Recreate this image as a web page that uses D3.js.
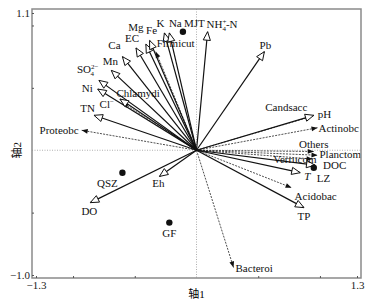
<!DOCTYPE html>
<html>
<head>
<meta charset="utf-8">
<script src="https://cdn.jsdelivr.net/npm/d3@7"></script>
<style>
    body { margin: 0; background: #fff; }
</style>
</head>
<body>
<svg id="chart" width="378" height="304"></svg>
<script>
// environment factors (solid arrows, open heads)
const envNames = ["NH4+-N", "Pb", "pH", "DOC", "T", "TP", "Eh", "DO", "TN", "Cl-", "Ni", "SO42-", "Mn", "Ca", "EC", "Mg", "Fe", "K", "Na"]
const envX = [0.09, 0.55, 0.95, 0.96, 0.84, 0.87, -0.30, -0.86, -0.83, -0.62, -0.80, -0.79, -0.69, -0.60, -0.49, -0.41, -0.38, -0.26, -0.22]
const envY = [0.95, 0.79, 0.28, -0.12, -0.18, -0.46, -0.21, -0.42, 0.28, 0.41, 0.49, 0.56, 0.64, 0.75, 0.82, 0.85, 0.88, 0.94, 0.94]

// phyla (dashed arrows, filled heads)
const taxaNames = ["Proteobc", "Chlamydi", "Firmicut", "Candsacc", "Actinobc", "Others", "Planctom", "Verrucom", "Acidobac", "Bacteroi"]
const taxaX = [-0.93, -0.60, -0.33, 0.93, 0.98, 0.95, 0.98, 0.94, 0.77, 0.30]
const taxaY = [0.16, 0.38, 0.79, 0.27, 0.18, -0.01, -0.04, -0.07, -0.30, -0.94]

// sampling sites
const siteNames = ["MJT", "LZ", "QSZ", "GF"]
const siteX = [-0.11, 0.95, -0.60, -0.22]
const siteY = [0.95, -0.14, -0.18, -0.58]

const xTicks = [-1.3, -1.0, -0.5, 0.5, 1.0, 1.3]
const yTicks = [-1.0, -0.5, 0.5, 1.0, 1.1]
const xLabelled = [-1.3, 1.3]
const yLabelled = [-1.0, 1.1]

// label placement relative to arrow tip: [dx, dy, anchor]
const labelPos = {
    "NH4+-N": [-1, -4, "start"], "Pb": [1, -3, "middle"], "pH": [4, 3, "start"],
    "DOC": [8, 4, "start"], "T": [4, 7, "start"], "TP": [0, 12, "middle"],
    "Eh": [-1, 11, "middle"], "DO": [-1, 12, "middle"], "TN": [1, -3, "end"],
    "Cl-": [-6, 9, "end"], "Ni": [-5, 3, "end"], "SO42-": [-22, -7, "start"],
    "Mn": [-1, -5, "middle"], "Ca": [-8, -8, "middle"], "EC": [-4, -6, "middle"],
    "Mg": [-10, -13, "middle"], "Fe": [2, -6, "middle"], "K": [-4, -6, "middle"],
    "Na": [6, -6, "middle"],
    "Proteobc": [-3, 4, "end"], "Chlamydi": [-6, -6, "start"], "Firmicut": [1, -5, "start"],
    "Candsacc": [-4, -6, "end"], "Actinobc": [1, 4, "start"], "Others": [0, -3, "middle"],
    "Planctom": [2, 3, "start"], "Verrucom": [4, 4, "end"], "Acidobac": [3, 12, "start"],
    "Bacteroi": [2, 4, "start"],
    "MJT": [1, -5, "start"], "LZ": [3, 14, "start"], "QSZ": [-15, 14, "middle"], "GF": [0, 14, "middle"]
}

const SERIF = "'Liberation Serif', 'Times New Roman', 'DejaVu Serif', 'Noto Sans CJK SC', serif"
const svg = d3.select("#chart")
const frame = {left: 32, right: 361, top: 9, bottom: 278}
const x = d3.scaleLinear().domain([-1.3, 1.3]).range([36, 357])
const y = d3.scaleLinear().domain([-1.0, 1.1]).range([275, 13])
const fmt = d3.format(".1f")

// origin dotted lines
svg.append("line")
    .attr("x1", x(0)).attr("x2", x(0))
    .attr("y1", frame.top).attr("y2", frame.bottom)
    .attr("stroke", "#999").attr("stroke-width", 0.8).attr("stroke-dasharray", "1,1.5")
svg.append("line")
    .attr("x1", frame.left).attr("x2", frame.right)
    .attr("y1", y(0)).attr("y2", y(0))
    .attr("stroke", "#999").attr("stroke-width", 0.8).attr("stroke-dasharray", "1,1.5")

function head(x0, y0, x1, y1, len, half) {
    let dx = x1 - x0, dy = y1 - y0,
        d = Math.sqrt(dx * dx + dy * dy),
        ux = dx / d, uy = dy / d,
        bx = x1 - ux * len, by = y1 - uy * len
    return `M${x1},${y1}L${bx - uy * half},${by + ux * half}L${bx + uy * half},${by - ux * half}Z`
}

const taxa = taxaNames.map((n, i) => ({name: n, x: taxaX[i], y: taxaY[i]}))
const env = envNames.map((n, i) => ({name: n, x: envX[i], y: envY[i]}))
const sites = siteNames.map((n, i) => ({name: n, x: siteX[i], y: siteY[i]}))

// taxa arrows
svg.append("g").selectAll("line")
    .data(taxa)
    .join("line")
    .attr("x1", x(0)).attr("y1", y(0))
    .attr("x2", d => x(d.x)).attr("y2", d => y(d.y))
    .attr("stroke", "#222").attr("stroke-width", 0.8).attr("stroke-dasharray", "2,1.2")
svg.append("g").selectAll("path")
    .data(taxa)
    .join("path")
    .attr("d", d => head(x(0), y(0), x(d.x), y(d.y), 6, 2.4))
    .attr("fill", "#111")

// environment arrows
svg.append("g").selectAll("line")
    .data(env)
    .join("line")
    .attr("x1", x(0)).attr("y1", y(0))
    .attr("x2", d => x(d.x)).attr("y2", d => y(d.y))
    .attr("stroke", "#111").attr("stroke-width", 1.2)
svg.append("g").selectAll("path")
    .data(env)
    .join("path")
    .attr("d", d => head(x(0), y(0), x(d.x), y(d.y), 8.5, 3.6))
    .attr("fill", "#fff").attr("stroke", "#111").attr("stroke-width", 1)

// sites
svg.append("g").selectAll("circle")
    .data(sites)
    .join("circle")
    .attr("cx", d => x(d.x)).attr("cy", d => y(d.y))
    .attr("r", 3.2)
    .attr("fill", "#111")

// labels
function addLabel(g, d) {
    let p = labelPos[d.name],
        t = g.append("text")
            .attr("x", x(d.x) + p[0]).attr("y", y(d.y) + p[1])
            .attr("text-anchor", p[2])
            .attr("fill", "#111")
            .style("font-family", SERIF)
            .style("font-size", "11px")
    if (d.name === "NH4+-N") {
        t.append("tspan").text("NH")
        t.append("tspan").attr("dy", -4).style("font-size", "7px").text("+")
        t.append("tspan").attr("dx", -4).attr("dy", 7).style("font-size", "7px").text("4")
        t.append("tspan").attr("dy", -3).text("-N")
    } else if (d.name === "SO42-") {
        t.append("tspan").text("SO")
        t.append("tspan").attr("dy", -4).style("font-size", "7px").text("2−")
        t.append("tspan").attr("dx", -8).attr("dy", 7).style("font-size", "7px").text("4")
    } else if (d.name === "Cl-") {
        t.append("tspan").text("Cl")
        t.append("tspan").attr("dy", -4).style("font-size", "7px").text("−")
    } else if (d.name === "T") {
        t.style("font-style", "italic").text("T")
    } else t.text(d.name)
}
let labels = svg.append("g")
env.forEach(d => addLabel(labels, d))
taxa.forEach(d => addLabel(labels, d))
sites.forEach(d => addLabel(labels, d))

// frame
svg.append("rect")
    .attr("x", frame.left).attr("y", frame.top)
    .attr("width", frame.right - frame.left).attr("height", frame.bottom - frame.top)
    .attr("fill", "none").attr("stroke", "#8a8a8a").attr("stroke-width", 1.5)

// axes
let xAxis = svg.append("g")
    .attr("transform", `translate(0, ${frame.bottom})`)
    .call(d3.axisBottom(x)
        .tickValues(xTicks)
        .tickSize(-2)
        .tickPadding(3)
        .tickFormat(d => xLabelled.includes(d) ? fmt(d) : ""))
xAxis.select(".domain").remove()

let yAxis = svg.append("g")
    .attr("transform", `translate(${frame.left}, 0)`)
    .call(d3.axisLeft(y)
        .tickValues(yTicks)
        .tickSize(-2)
        .tickPadding(2)
        .tickFormat(d => yLabelled.includes(d) ? fmt(d) : ""))
yAxis.select(".domain").remove()

svg.selectAll(".tick line").attr("stroke", "#555")
svg.selectAll(".tick text")
    .style("font-family", SERIF)
    .style("font-size", "11px")
    .attr("fill", "#222")

// axis titles
svg.append("text")
    .attr("x", x(0)).attr("y", 298)
    .attr("text-anchor", "middle")
    .style("font-family", SERIF)
    .style("font-size", "11px")
    .text("轴1")
svg.append("text")
    .attr("transform", `translate(21, ${y(0)}) rotate(-90)`)
    .attr("text-anchor", "middle")
    .style("font-family", SERIF)
    .style("font-size", "11px")
    .text("轴2")
</script>
</body>
</html>
